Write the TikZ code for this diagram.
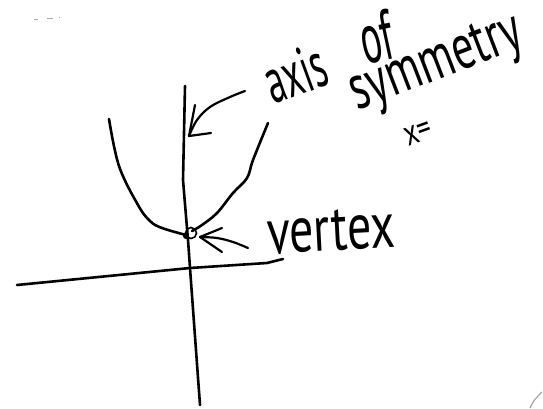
\documentclass[tikz,border=0pt]{standalone}
\usepackage{fontspec}
\setmainfont{PT Sans}
\begin{document}
\begin{tikzpicture}[x=1pt,y=-1pt,
  ink/.style={line width=2.6pt,line cap=round,line join=round,black},
  thin ink/.style={line width=2.2pt,line cap=round,line join=round,black},
  hand/.style={inner sep=0pt},
  faint/.style={line width=1.2pt,gray!70}]
\useasboundingbox (0,0) rectangle (543,408);
% named points
\coordinate (vtop) at (185,86);
\coordinate (vbot) at (200,405);
\coordinate (hleft) at (17,285);
\coordinate (hright) at (283,259);
\coordinate (O) at (190,268);
\coordinate (V) at (191,233);
% axes
\draw[ink] (vtop) -- (183,180) -- (188,240) -- (O) -- (vbot);
\draw[ink] (hleft) -- (O) -- (267,263) -- (hright);
% parabola
\draw[ink] plot[smooth,tension=0.6] coordinates {(109,119) (119,166) (138,205) (150,221) (162,228) (186,235)};
\draw[ink] plot[smooth,tension=0.6] coordinates {(192,231) (202,225) (217,213) (233,193) (247,178) (253,160) (268,123)};
% vertex circle
\node[draw,circle,line width=1.6pt,minimum size=11pt,inner sep=0pt] (vc) at (V) {};
\fill (186,236) circle (3pt);
% axis-of-symmetry arrow
\coordinate (atip) at (189,136);
\coordinate (astart) at (245,91);
\draw[thin ink] plot[smooth,tension=0.6] coordinates {(astart) (230,97) (210,107) (197,120) (atip)};
\draw[thin ink] (195,105) -- (atip) -- (211,133);
% vertex arrow
\coordinate (vtip) at (200,237);
\coordinate (vstart) at (248,248);
\draw[thin ink] plot[smooth,tension=0.6] coordinates {(vstart) (233,242) (217,238) (vtip)};
\draw[thin ink] (222,228) -- (vtip) -- (222,252);
% labels
\node[hand,rotate=20] (axis) at (295,73) {\fontsize{46}{46}\selectfont\scalebox{0.8}[1.4]{axis}};
\node[hand,rotate=12] (of) at (376,37) {\fontsize{46}{46}\selectfont\scalebox{0.85}[1.55]{of}};
\node[hand,rotate=21] (sym) at (437,66) {\fontsize{51}{51}\selectfont\scalebox{0.85}[1.25]{symmetry}};
\node[hand,rotate=20] (xeq) at (418,133) {\fontsize{30}{30}\selectfont\scalebox{0.9}[1.2]{x=}};
\node[hand,rotate=3] (vertex) at (331,231) {\fontsize{52}{52}\selectfont\scalebox{0.92}[1.25]{vertex}};
% scan marks
\draw[faint] (34,19.5) -- (38,19.5);
\draw[faint] (47,18.5) -- (53,18.5);
\draw[faint] (59,17.5) -- (60,17.5);
\draw[faint] (530,408) .. controls (534,400) .. (542,392);
\end{tikzpicture}
\end{document}
